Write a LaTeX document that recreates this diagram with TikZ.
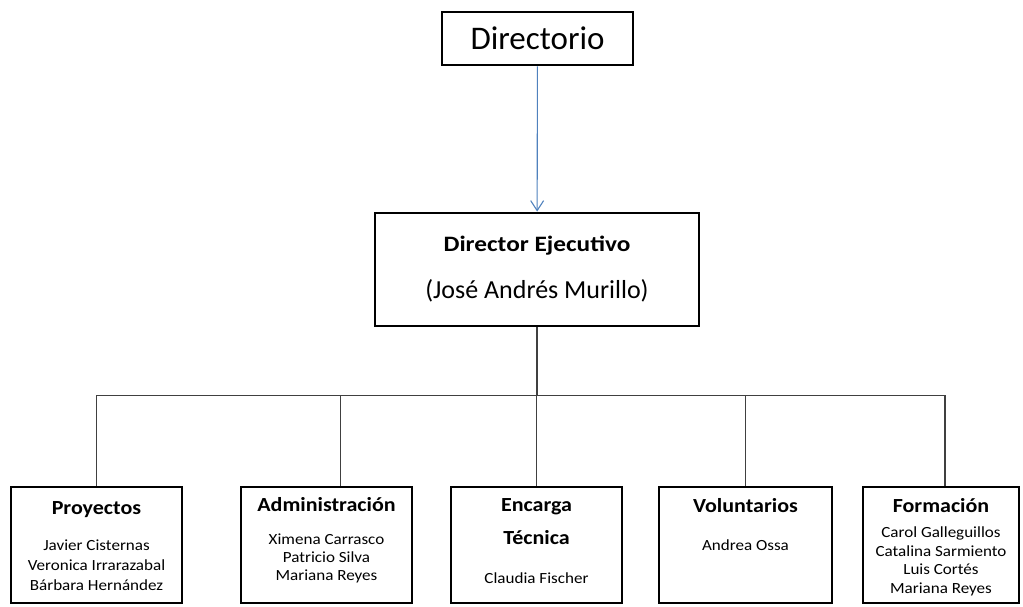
\documentclass[tikz,border=0pt]{standalone}
\usepackage{fontspec}
\usepackage{graphicx}
\setmainfont{Carlito}
\usetikzlibrary{positioning,arrows.meta}

\definecolor{linkblue}{HTML}{4F81BD}
\newcommand{\unithead}[1]{{\bfseries\fontsize{20}{24}\selectfont #1}}

\begin{document}
\begin{tikzpicture}[x=1pt, y=-1pt, >={Straight Barb[length=10pt,width=13pt]},
    box/.style={draw, line width=2.8pt, inner sep=0pt},
    unit/.style={box, minimum width=171pt, minimum height=116pt},
    names/.style={align=center, inner sep=0pt, xscale=1.1, font=\fontsize{15.5}{19}\selectfont},
    link/.style={draw=black!75, line width=1.6pt}]
    \useasboundingbox (0,0) rectangle (1023,607);

    % Nodes {board, exec, units}
    \node [box, minimum width=191pt, minimum height=53pt, font=\fontsize{33}{36}\selectfont] (board) at (537.5,38.5) {Directorio};
    \node [box, minimum width=324pt, minimum height=113pt, align=center, font=\fontsize{26}{30}\selectfont] (exec) at (537,269.5)
        {\scalebox{1.15}[1]{\bfseries\fontsize{22}{26}\selectfont Director Ejecutivo}\\[17pt](José Andrés Murillo)};

    \node [unit]                        (proj)  at (96.5,545)  {};
    \node [unit]                        (admin) at (326.5,545) {};
    \node [unit]                        (tech)  at (536.5,545) {};
    \node [unit, minimum width=173pt]   (volun) at (745.5,545) {};
    \node [unit, minimum width=156pt]   (train) at (941,545)   {};

    % Texts
    \node [names, below=16pt of proj.north]  {\unithead{Proyectos}\\[17pt] Javier Cisternas\\[1pt] Veronica Irrarazabal\\[1pt] Bárbara Hernández};
    \node [names, below=12pt of admin.north] {\unithead{Administración}\\[14pt] Ximena Carrasco\\[-1pt] Patricio Silva\\[-1pt] Mariana Reyes};
    \node [names, below=13pt of tech.north]  {\unithead{Encarga}\\[14pt] \unithead{Técnica}\\[20pt] Claudia Fischer};
    \node [names, below=13pt of volun.north] {\unithead{Voluntarios}\\[19pt] Andrea Ossa};
    \node [names, below=13pt of train.north] {\unithead{Formación}\\[6pt] Carol Galleguillos\\[-0.5pt] Catalina Sarmiento\\[-0.5pt] Luis Cortés\\[-0.5pt] Mariana Reyes};

    % Paths
    \path [->, draw=linkblue, line width=1.1pt] (board) -- (exec);
    \path [link] (exec.south) -- ++(0,68) coordinate (bus);
    \path [link] (bus) -| (proj.north);
    \path [link] (bus) -| ([xshift=14pt]admin.north);
    \path [link] (bus) -| (tech.north);
    \path [link] (bus) -| (volun.north);
    \path [link] (bus) -| ([xshift=4pt]train.north);
\end{tikzpicture}
\end{document}
